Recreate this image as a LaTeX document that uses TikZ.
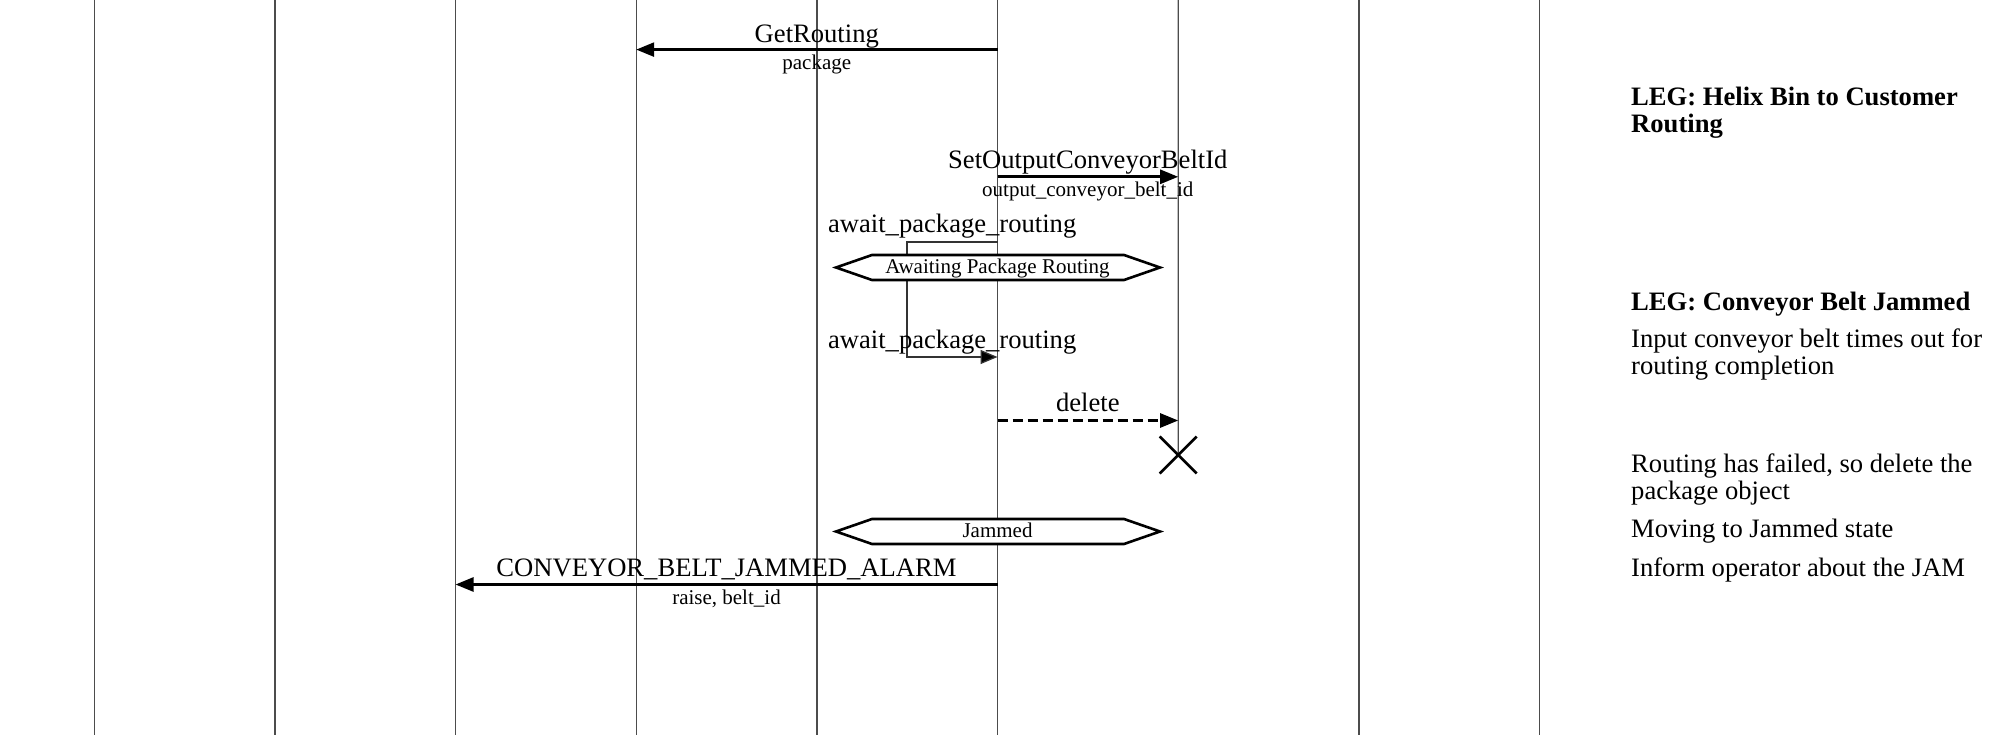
\documentclass[tikz,border=0pt]{standalone}
\usepackage{fontspec}
\setmainfont{Liberation Serif}
\usepackage{tikz}
\usetikzlibrary{positioning,arrows.meta}
\tikzset{
  lifeline/.style={draw=black!70, line width=1.3pt},
  msg/.style={-{Triangle[length=18pt,width=14pt]}, line width=2.6pt},
  delmsg/.style={msg, dash pattern=on 10pt off 5pt},
  selfmsg/.style={-{Triangle[length=17pt,width=14pt,fill=black]}, draw=black!80, line width=1.3pt},
  msglabel/.style={font=\fontsize{26.6}{27}\selectfont, inner sep=0pt, anchor=base},
  arglabel/.style={font=\fontsize{21}{22}\selectfont, inner sep=0pt, anchor=base},
  statebox/.style={draw, line width=2.6pt, fill=white, line join=miter},
  statetext/.style={font=\fontsize{21}{22}\selectfont, inner sep=0pt, anchor=base},
  legtext/.style={font=\fontsize{26.6}{26.7}\selectfont, inner sep=0pt, anchor=base west, align=left},
  legtitle/.style={legtext, font=\fontsize{26.6}{27}\selectfont\bfseries},
  killmark/.style={line width=2.6pt}
}

\begin{document}
\begin{tikzpicture}[x=1pt, y=-1pt]
  \useasboundingbox (0,0) rectangle (1995,735);

  % lifelines
  \foreach \i in {0,...,8} {
    \coordinate (ll\i) at (94.2+180.67*\i, 0);
  }
  \foreach \i in {0,1,2,3,4,5,7,8} {
    \draw[lifeline] (ll\i) -- ++(0,735);
  }
  \coordinate (pkgEnd) at (1178.2,455);
  \draw[lifeline] (ll6) -- (pkgEnd);

  % GetRouting
  \coordinate (getFrom) at (997.5,49.6);
  \coordinate (getTo) at (636.2,49.6);
  \draw[msg] (getFrom) -- (getTo);
  \node[msglabel] (getLbl) at (816.8,42.5) {GetRouting};
  \node[arglabel] (getArg) at (816.8,69.5) {package};

  % SetOutputConveyorBeltId
  \coordinate (setFrom) at (997.5,176.8);
  \coordinate (setTo) at (1178.2,176.8);
  \draw[msg] (setFrom) -- (setTo);
  \node[msglabel] (setLbl) at (1087.8,168.3) {SetOutputConveyorBeltId};
  \node[arglabel] (setArg) at (1087.8,197) {output\_conveyor\_belt\_id};

  % timer loop
  \coordinate (loopFrom) at (997.5,242);
  \coordinate (loopBend) at (907,300);
  \coordinate (loopTo) at (997.5,357);
  \draw[selfmsg] (loopFrom) -| (loopBend) |- (loopTo);
  \node[msglabel] (loopLblA) at (952.2,233) {await\_package\_routing};
  \node[msglabel] (loopLblB) at (952.2,348.3) {await\_package\_routing};

  % state Awaiting Package Routing
  \draw[statebox] (836,267.5) -- ++(36,-12.5) -- ++(252,0) -- ++(36,12.5)
    -- ++(-36,12.5) -- ++(-252,0) -- cycle;
  \node[statetext] (stAwait) at (997.5,273.5) {Awaiting Package Routing};

  % delete
  \coordinate (delFrom) at (997.5,420.5);
  \coordinate (delTo) at (1178.2,420.5);
  \draw[delmsg] (delFrom) -- (delTo);
  \node[msglabel] (delLbl) at (1087.8,411.7) {delete};
  \draw[killmark] ([xshift=-18.5pt,yshift=18.5pt]pkgEnd) -- ([xshift=18.5pt,yshift=-18.5pt]pkgEnd);
  \draw[killmark] ([xshift=-18.5pt,yshift=-18.5pt]pkgEnd) -- ([xshift=18.5pt,yshift=18.5pt]pkgEnd);

  % state Jammed
  \draw[statebox] (836,531.5) -- ++(36,-12.5) -- ++(252,0) -- ++(36,12.5)
    -- ++(-36,12.5) -- ++(-252,0) -- cycle;
  \node[statetext] (stJam) at (997.5,537.3) {Jammed};

  % alarm
  \coordinate (almFrom) at (997.5,584.5);
  \coordinate (almTo) at (455.5,584.5);
  \draw[msg] (almFrom) -- (almTo);
  \node[msglabel] (almLbl) at (726.5,576) {CONVEYOR\_BELT\_JAMMED\_ALARM};
  \node[arglabel] (almArg) at (726.5,604) {raise, belt\_id};

  % legend (multi-line nodes sit on their last baseline)
  \node[legtitle] (legHelix) at (1631,132.7) {LEG: Helix Bin to Customer\\Routing};
  \node[legtitle] (legJam) at (1631,310.7) {LEG: Conveyor Belt Jammed};
  \node[legtext] (legTimeout) at (1631,374) {Input conveyor belt times out for\\routing completion};
  \node[legtext] (legDelete) at (1631,499) {Routing has failed, so delete the\\package object};
  \node[legtext] (legMove) at (1631,537.3) {Moving to Jammed state};
  \node[legtext] (legInform) at (1631,576) {Inform operator about the JAM};
\end{tikzpicture}
\end{document}
